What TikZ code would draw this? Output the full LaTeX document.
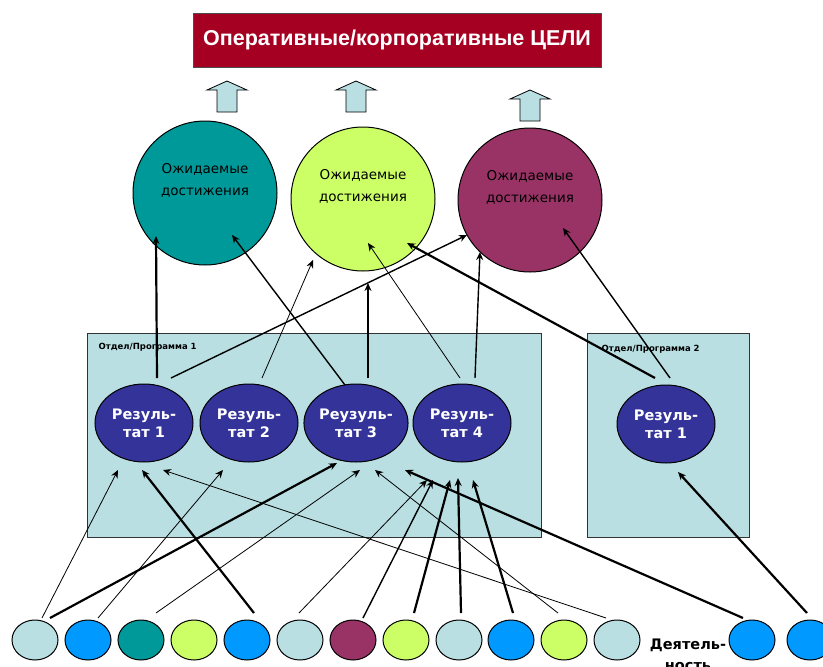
\documentclass[tikz,border=0pt]{standalone}
\usepackage{fontspec}
\setmainfont{DejaVu Sans}
\newfontfamily\titlefont{Liberation Sans}
\usetikzlibrary{positioning, arrows.meta, shapes.geometric}
\definecolor{goalred}{HTML}{A50021}
\definecolor{paleblue}{HTML}{B9DFE3}
\definecolor{tealc}{HTML}{009999}
\definecolor{limec}{HTML}{CCFF66}
\definecolor{plum}{HTML}{993366}
\definecolor{navy}{HTML}{333399}
\definecolor{skyc}{HTML}{0099FF}

\begin{document}
\begin{tikzpicture}[x=1pt, y=-1pt, >={Stealth[length=8pt,width=7pt]},
                    lite/.style={line width=0.8pt}, mid/.style={line width=1.4pt},
                    heavy/.style={line width=2.2pt},
                    goal/.style={draw=black!70, fill=goalred, text=white, minimum width=408pt,
                                 minimum height=54pt, font=\titlefont\bfseries\fontsize{21.5}{24}\selectfont},
                    aim/.style={circle, draw, line width=1pt, minimum size=144pt, align=center,
                                text depth=28pt, font=\fontsize{13.5}{22}\selectfont},
                    dept/.style={draw=black!80, line width=1pt, fill=paleblue, minimum width=454pt,
                                 minimum height=204pt},
                    deptname/.style={inner sep=0pt, font=\bfseries\fontsize{8.5}{10}\selectfont},
                    res/.style={ellipse, draw, line width=1pt, fill=navy, text=white, minimum width=98pt,
                                minimum height=78pt, align=center, inner sep=0pt,
                                font=\bfseries\fontsize{14.5}{18}\selectfont},
                    act/.style={ellipse, draw, line width=1pt, minimum width=46pt, minimum height=40pt},
                    blockup/.pic={\draw[fill=paleblue, line width=0.8pt] (-10,31) -- (-10,9) -- (-20,9)
                                  -- (0,0) -- (20,9) -- (10,9) -- (10,31) -- cycle;}]

    \path[use as bounding box, fill=white] (0,0) rectangle (823,667);

    % goals and expected achievements
    \node[goal] (goal) at (397,40) {Оперативные/корпоративные ЦЕЛИ};
    \pic at (227,81) {blockup};
    \pic at (356,81) {blockup};
    \pic at (530,90) {blockup};

    \node[aim, fill=tealc] (ach1) at (205,193) {Ожидаемые\\достижения};
    \node[aim, fill=limec] (ach2) at (363,199) {Ожидаемые\\достижения};
    \node[aim, fill=plum] (ach3) at (530,200) {Ожидаемые\\достижения};

    % departments with their results
    \node[dept] (dept1) at (314,435) {};
    \node[dept, minimum width=162pt] (dept2) at (668,435) {};
    \node[deptname, below right=10pt and 12pt of dept1.north west] (name1) {Отдел/Программа 1};
    \node[deptname, below right=12pt and 15pt of dept2.north west] (name2) {Отдел/Программа 2};

    \node[res] (r1) at (144,423) {Резуль-\\тат 1};
    \node[res] (r2) at (249,423) {Резуль-\\тат 2};
    \node[res] (r3) at (356,423) {Реузуль-\\тат 3};
    \node[res] (r4) at (462,423) {Резуль-\\тат 4};
    \node[res] (s1) at (666,424) {Резуль-\\тат 1};

    % activities
    \node[act, fill=paleblue] (a1) at (35,640) {};
    \node[act, fill=skyc] (a2) [right=6pt of a1] {};
    \node[act, fill=tealc] (a3) [right=6pt of a2] {};
    \node[act, fill=limec] (a4) [right=6pt of a3] {};
    \node[act, fill=skyc] (a5) [right=6pt of a4] {};
    \node[act, fill=paleblue] (a6) [right=6pt of a5] {};
    \node[act, fill=plum] (a7) [right=6pt of a6] {};
    \node[act, fill=limec] (a8) [right=6pt of a7] {};
    \node[act, fill=paleblue] (a9) [right=6pt of a8] {};
    \node[act, fill=skyc] (a10) [right=5pt of a9] {};
    \node[act, fill=limec] (a11) [right=6pt of a10] {};
    \node[act, fill=paleblue] (a12) [right=6pt of a11] {};
    \node[act, fill=skyc] (a13) at (752,640) {};
    \node[act, fill=skyc] (a14) at (810,640) {};
    \node[anchor=north, align=center, inner sep=0pt, font=\bfseries\fontsize{14.5}{21}\selectfont]
        (work) at (688,639) {Деятель-\\ность};

    % results -> achievements
    \path[->]
    ([shift={(13,-45)}]r1.center) edge[heavy] ([shift={(-49,43)}]ach1.center)
    ([shift={(27,-45)}]r1.center) edge[mid] ([shift={(-63,35)}]ach3.center)
    ([shift={(13,-45)}]r2.center) edge[lite] ([shift={(-50,61)}]ach2.center)
    ([shift={(-11,-38)}]r3.center) edge[mid] ([shift={(27,42)}]ach1.center)
    ([shift={(12,-45)}]r3.center) edge[heavy] ([shift={(5,84)}]ach2.center)
    ([shift={(-2,-45)}]r4.center) edge[lite] ([shift={(5,44)}]ach2.center)
    ([shift={(13,-45)}]r4.center) edge[mid] ([shift={(-50,52)}]ach3.center)
    ([shift={(-11,-46)}]s1.center) edge[heavy] ([shift={(44,44)}]ach2.center)
    ([shift={(4,-46)}]s1.center) edge[mid] ([shift={(33,28)}]ach3.center);

    % activities -> results
    \path[->]
    ([shift={(7,-22)}]a1.center) edge[lite] ([shift={(-26,47)}]r1.center)
    ([shift={(15,-22)}]a1.center) edge[heavy] ([shift={(-19,40)}]r3.center)
    ([shift={(10,-22)}]a2.center) edge[lite] ([shift={(-26,47)}]r2.center)
    ([shift={(15,-27)}]a3.center) edge[lite] ([shift={(4,47)}]r3.center)
    ([shift={(7,-27)}]a5.center) edge[heavy] ([shift={(-2,47)}]r1.center)
    ([shift={(-1,-27)}]a6.center) edge[lite] ([shift={(-35,57)}]r4.center)
    ([shift={(10,-22)}]a7.center) edge[mid] ([shift={(-29,57)}]r4.center)
    ([shift={(8,-27)}]a8.center) edge[heavy] ([shift={(-12,57)}]r4.center)
    ([shift={(2,-27)}]a9.center) edge[heavy] ([shift={(-4,55)}]r4.center)
    ([shift={(2,-27)}]a10.center) edge[heavy] ([shift={(11,57)}]r4.center)
    ([shift={(-6,-27)}]a11.center) edge[lite] ([shift={(19,47)}]r3.center)
    ([shift={(-11,-22)}]a12.center) edge[lite] ([shift={(19,47)}]r1.center)
    ([shift={(-9,-22)}]a13.center) edge[heavy] ([shift={(-57,47)}]r4.center)
    ([shift={(-3,-27)}]a14.center) edge[heavy] ([shift={(12,48)}]s1.center);
\end{tikzpicture}
\end{document}
